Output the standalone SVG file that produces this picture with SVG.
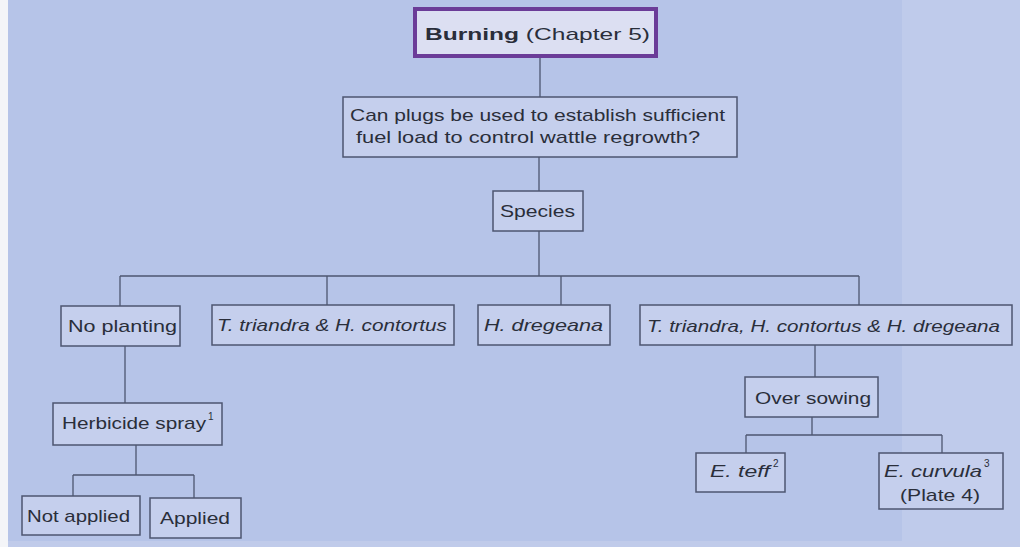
<svg xmlns="http://www.w3.org/2000/svg" width="1020" height="547" viewBox="0 0 1020 547">
<style>
.box{fill:#c5cfed;stroke:#4d5670;stroke-width:1.5}
.t{font-family:"Liberation Sans",Arial,sans-serif;font-size:17px;fill:#2a2e3a}
.i{font-style:italic}
.c{fill:none;stroke:#4d5670;stroke-width:1.3}
.sup{font-family:"Liberation Sans",Arial,sans-serif;font-size:10px;fill:#2a2e3a}
</style>
<rect x="0" y="0" width="1020" height="547" fill="#b6c4e8"/>
<rect x="0" y="0" width="8" height="547" fill="#f4f5f8"/>
<rect x="902" y="0" width="118" height="547" fill="#bfcbeb"/>
<rect x="8" y="541" width="1012" height="6" fill="#c0cbea"/>
<g id="connectors" class="c">
<path d="M540 58V97"/>
<path d="M539 157V191"/>
<path d="M539 231V276"/>
<path d="M120 276H859"/>
<path d="M120 276V306M327 276V305M561 276V305M859 276V305"/>
<path d="M125 346V403"/>
<path d="M136 445V475M73 475H194M73 475V496M194 475V498"/>
<path d="M815 345V377"/>
<path d="M812 417V435M746 435H942M746 435V453M942 435V453"/>
</g>
<g id="burning">
<rect x="415" y="9" width="241" height="47" fill="#dcdff2" stroke="#6b3c98" stroke-width="4"/>
<text class="t" x="425" y="40" font-size="22" textLength="225" lengthAdjust="spacingAndGlyphs"><tspan font-weight="bold">Burning</tspan> (Chapter 5)</text>
</g>
<g id="question">
<rect class="box" x="343" y="97" width="394" height="60"/>
<text class="t" x="350" y="121" textLength="375" lengthAdjust="spacingAndGlyphs">Can plugs be used to establish sufficient</text>
<text class="t" x="356" y="143" textLength="344" lengthAdjust="spacingAndGlyphs">fuel load to control wattle regrowth?</text>
</g>
<g id="species">
<rect class="box" x="493" y="191" width="90" height="40"/>
<text class="t" x="500" y="217" textLength="75" lengthAdjust="spacingAndGlyphs">Species</text>
</g>
<g id="noplanting">
<rect class="box" x="61" y="306" width="119" height="40"/>
<text class="t" x="68" y="332" textLength="109" lengthAdjust="spacingAndGlyphs">No planting</text>
</g>
<g id="ttriandra">
<rect class="box" x="212" y="305" width="242" height="40"/>
<text class="t i" x="217" y="331" textLength="230" lengthAdjust="spacingAndGlyphs">T. triandra &amp; H. contortus</text>
</g>
<g id="hdregeana">
<rect class="box" x="478" y="305" width="132" height="40"/>
<text class="t i" x="484" y="331" textLength="119" lengthAdjust="spacingAndGlyphs">H. dregeana</text>
</g>
<g id="all3">
<rect class="box" x="640" y="305" width="372" height="40"/>
<text class="t i" x="647" y="332" textLength="353" lengthAdjust="spacingAndGlyphs">T. triandra, H. contortus &amp; H. dregeana</text>
</g>
<g id="herbicide">
<rect class="box" x="53" y="403" width="169" height="42"/>
<text class="t" x="62" y="429" textLength="144" lengthAdjust="spacingAndGlyphs">Herbicide spray</text>
<text class="sup" x="208" y="420">1</text>
</g>
<g id="notapplied">
<rect class="box" x="22" y="496" width="118" height="39"/>
<text class="t" x="27" y="522" textLength="103" lengthAdjust="spacingAndGlyphs">Not applied</text>
</g>
<g id="applied">
<rect class="box" x="150" y="498" width="91" height="40"/>
<text class="t" x="160" y="524" textLength="70" lengthAdjust="spacingAndGlyphs">Applied</text>
</g>
<g id="oversowing">
<rect class="box" x="745" y="377" width="133" height="40"/>
<text class="t" x="755" y="404" textLength="116" lengthAdjust="spacingAndGlyphs">Over sowing</text>
</g>
<g id="eteff">
<rect class="box" x="696" y="453" width="89" height="39"/>
<text class="t i" x="710" y="477" textLength="60" lengthAdjust="spacingAndGlyphs">E. teff</text>
<text class="sup" x="773" y="467">2</text>
</g>
<g id="ecurvula">
<rect class="box" x="879" y="453" width="124" height="56"/>
<text class="t i" x="884" y="477" textLength="98" lengthAdjust="spacingAndGlyphs">E. curvula</text>
<text class="sup" x="984" y="467">3</text>
<text class="t" x="900" y="501" textLength="80" lengthAdjust="spacingAndGlyphs">(Plate 4)</text>
</g>
</svg>
